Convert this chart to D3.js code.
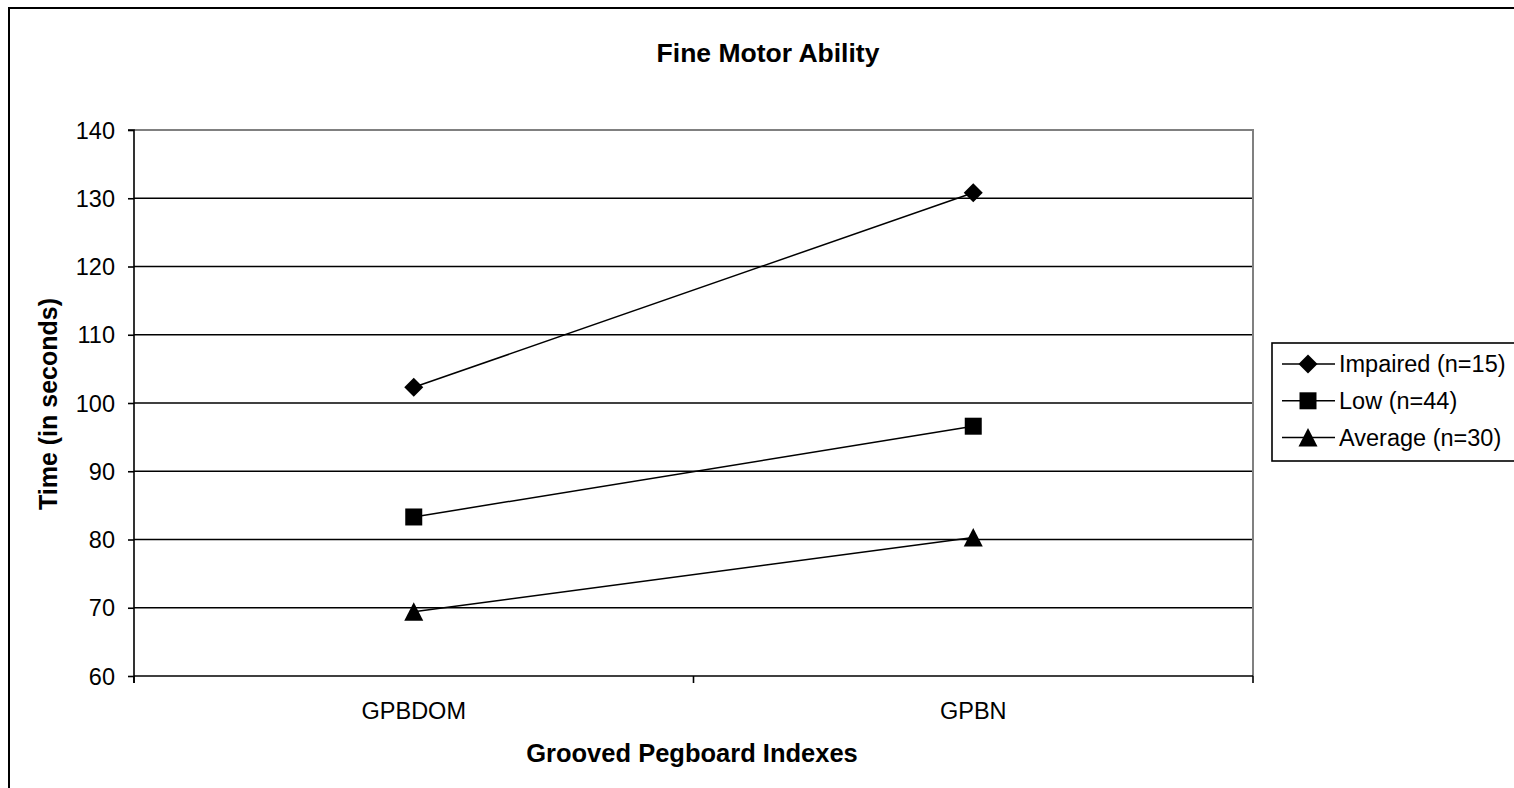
<!DOCTYPE html>
<html><head><meta charset="utf-8">
<script src="https://cdn.jsdelivr.net/npm/d3@7"></script>
<style>body{margin:0;background:#fff}svg{display:block}text{font-family:"Liberation Sans",Arial,sans-serif;fill:#000}</style>
</head><body>
<script>
const categories = ["GPBDOM", "GPBN"];
const seriesNames = ["Impaired (n=15)", "Low (n=44)", "Average (n=30)"];
const impaired = [102.3, 130.8];
const low = [83.3, 96.6];
const average = [69.4, 80.3];
const yTicks = [60, 70, 80, 90, 100, 110, 120, 130, 140];
const series = [impaired, low, average];

// marker shapes (Excel-like): diamond, square, triangle
const markerPaths = [
  "M0,-9.5L9.5,0L0,9.5L-9.5,0Z",
  "M-8.5,-8.5H8.5V8.5H-8.5Z",
  "M0,-9.5L9.5,9L-9.5,9Z"
];

const W = 1514, H = 788;
const svg = d3.select("body").append("svg").attr("width", W).attr("height", H);
svg.append("rect").attr("x", 9).attr("y", 8).attr("width", W + 20).attr("height", H + 20)
  .attr("fill", "#fff").attr("stroke", "#000").attr("stroke-width", 2);

const L = 134, R = 1253, T = 130, B = 676;
const x = d3.scaleBand().domain(categories).range([L, R]);
const y = d3.scaleLinear().domain([60, 140]).range([B, T]);

// gridlines
svg.append("g").selectAll("line").data(yTicks.filter(t => t > 60 && t < 140)).join("line")
  .attr("x1", L).attr("x2", R).attr("y1", d => y(d)).attr("y2", d => y(d))
  .attr("stroke", "#000").attr("stroke-width", 1.6);
svg.append("path").attr("d", `M${L},${T}H${R}V${B}`).attr("fill", "none")
  .attr("stroke", "#808080").attr("stroke-width", 2);

// y axis
const yAxis = d3.axisLeft(y).tickValues(yTicks).tickSize(6).tickPadding(13);
const gy = svg.append("g").attr("transform", `translate(${L},0)`).call(yAxis);
gy.select(".domain").attr("stroke", "#000").attr("stroke-width", 1.6).attr("d", `M-6,${T}H0V${B + 7}`);
gy.selectAll(".tick line").attr("stroke", "#000").attr("stroke-width", 1.6);
gy.selectAll(".tick text").style("font-size", "23.5px").attr("dy", "0.35em");

// x axis
const xAxis = d3.axisBottom(x).tickSize(0).tickPadding(26);
const gx = svg.append("g").attr("transform", `translate(0,${B})`).call(xAxis);
gx.select(".domain").attr("stroke", "#000").attr("stroke-width", 1.6).attr("d", `M${L},0H${R}`);
gx.selectAll(".tick text").style("font-size", "23.5px");
const bounds = [L, ...categories.slice(1).map(c => x(c)), R];
svg.append("g").selectAll("line").data(bounds).join("line")
  .attr("x1", d => d).attr("x2", d => d).attr("y1", B).attr("y2", B + 7)
  .attr("stroke", "#000").attr("stroke-width", 1.6);

// series
const cx = c => x(c) + x.bandwidth() / 2;
const line = d3.line().x((d, i) => cx(categories[i])).y(d => y(d));
series.forEach((s, k) => {
  svg.append("path").datum(s).attr("d", line).attr("fill", "none").attr("stroke", "#000").attr("stroke-width", 1.5);
  svg.append("g").selectAll("path").data(s).join("path")
    .attr("transform", (d, i) => `translate(${cx(categories[i])},${y(d)})`)
    .attr("d", markerPaths[k]).attr("fill", "#000");
});

// titles
svg.append("text").attr("x", 768).attr("y", 62).attr("text-anchor", "middle")
  .style("font-size", "26.5px").style("font-weight", "bold").text("Fine Motor Ability");
svg.append("text").attr("x", 692).attr("y", 762).attr("text-anchor", "middle")
  .style("font-size", "25.5px").style("font-weight", "bold").text("Grooved Pegboard Indexes");
svg.append("text").attr("transform", `translate(57,404) rotate(-90)`).attr("text-anchor", "middle")
  .style("font-size", "25px").style("font-weight", "bold").text("Time (in seconds)");

// legend
const lg = svg.append("g");
lg.append("rect").attr("x", 1272).attr("y", 343).attr("width", 260).attr("height", 118)
  .attr("fill", "#fff").attr("stroke", "#000").attr("stroke-width", 1.6);
seriesNames.forEach((n, k) => {
  const ly = 364 + k * 36.8;
  lg.append("line").attr("x1", 1282).attr("x2", 1335).attr("y1", ly).attr("y2", ly)
    .attr("stroke", "#000").attr("stroke-width", 1.5);
  lg.append("path").attr("transform", `translate(1308,${ly})`)
    .attr("d", markerPaths[k]).attr("fill", "#000");
  lg.append("text").attr("x", 1339).attr("y", ly).attr("dy", "0.35em").style("font-size", "23.5px").text(n);
});
</script>
</body></html>
